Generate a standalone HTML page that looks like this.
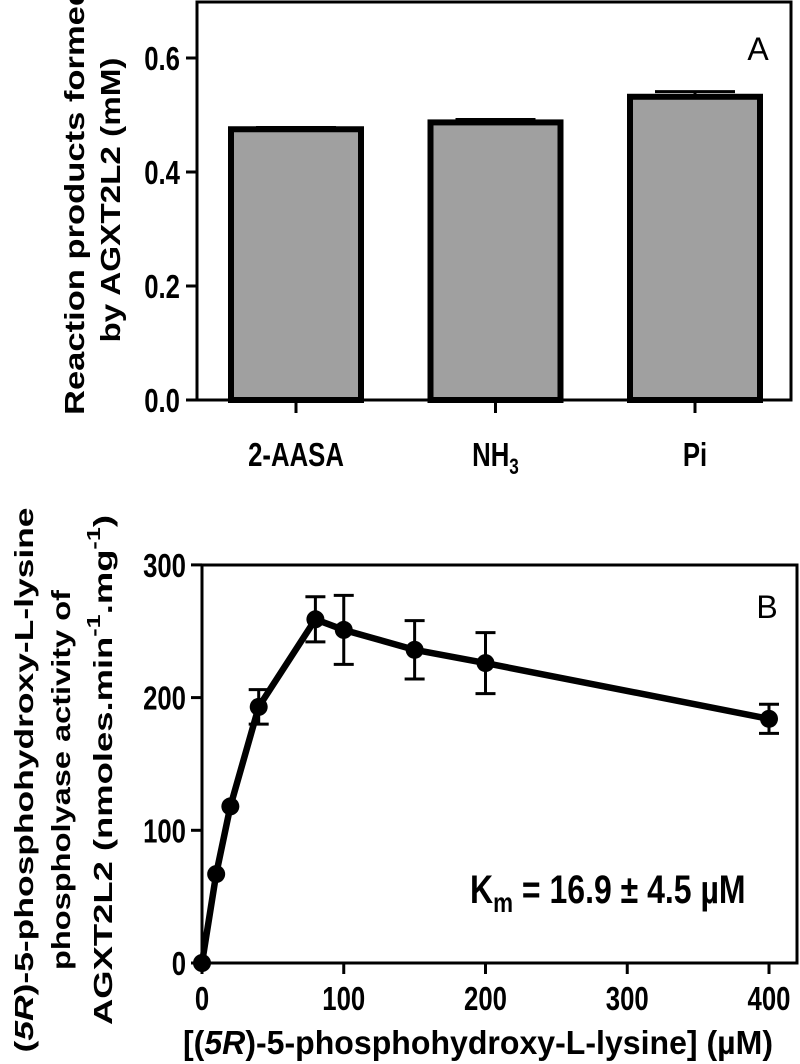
<!DOCTYPE html>
<html><head><meta charset="utf-8"><style>
body{margin:0;background:#fff}
svg{display:block}
.t{font-family:"Liberation Sans",sans-serif;font-weight:bold;font-size:33px}
.ti{font-family:"Liberation Sans",sans-serif;font-weight:bold;font-size:26px}
</style></head><body>
<svg id="chart" width="800" height="1064" xmlns="http://www.w3.org/2000/svg"></svg>
<script>
const catsA=["2-AASA","NH3","Pi"];
const valsA=[0.475,0.487,0.532];
const errA=[0.003,0.005,0.009];
const ticksA=[0.0,0.2,0.4,0.6];
const xB=[0,10,20,40,80,100,150,200,400];
const yB=[0,67,118,193,259,251,236,226,184];
const eB=[0,0,0,13,17,26,22,23,11];
const ticksBx=[0,100,200,300,400];
const ticksBy=[0,100,200,300];
const NS="http://www.w3.org/2000/svg";
const svg=document.getElementById('chart');
function mk(tag,attrs,parent){const e=document.createElementNS(NS,tag);for(const k in attrs)e.setAttribute(k,attrs[k]);(parent||svg).appendChild(e);return e;}
function ct(x,y,anchor,parent){return mk('text',{transform:`translate(${x},${y}) scale(0.78,1)`,x:0,y:0,'text-anchor':anchor,class:'t'},parent);}
// Panel A
const gA=mk('g',{});


const yA=v=>400-v/0.2*114;
const xA=i=>296+i*199.5;
let r=mk('rect',{x:197,y:2,width:594,height:398,fill:'none',stroke:'#000','stroke-width':3},gA);


ticksA.forEach(v=>{
  mk('line',{x1:186,x2:197,y1:yA(v),y2:yA(v),stroke:'#000','stroke-width':3},gA);
  const t=ct(180,yA(v)+12,'end',gA);
  t.textContent=v.toFixed(1);
  
  
});
catsA.forEach((c,i)=>{
  const cx=xA(i);
  const er=mk('path',{d:`M${cx-40} ${yA(valsA[i]+errA[i])}H${cx+40}M${cx} ${yA(valsA[i]+errA[i])}V${yA(valsA[i])}`,stroke:'#000','stroke-width':3,fill:'none'},gA);
  
  
  const b=mk('rect',{x:cx-65,y:yA(valsA[i]),width:130,height:400-yA(valsA[i]),fill:'#a0a0a0',stroke:'#000','stroke-width':6},gA);
  
  
  mk('line',{x1:cx,x2:cx,y1:400,y2:413,stroke:'#000','stroke-width':3},gA);
  const t=ct(cx,466,'middle',gA);
  if(c==="NH3"){t.innerHTML='NH<tspan dy="8" font-size="22">3</tspan>';}else t.textContent=c;
  
  
});
let lab=mk('text',{x:758,y:60,'text-anchor':'middle','font-family':'Liberation Sans,sans-serif','font-size':'32'},gA);
lab.textContent='A';


let yt=mk('text',{transform:'translate(84,200) rotate(-90)','text-anchor':'middle',class:'ti',style:'font-size:28px',textLength:'430',lengthAdjust:'spacingAndGlyphs'},gA);
yt.textContent='Reaction products formed';


yt=mk('text',{transform:'translate(120,200) rotate(-90)','text-anchor':'middle',class:'ti',style:'font-size:28px',textLength:'285',lengthAdjust:'spacingAndGlyphs'},gA);
yt.textContent='by AGXT2L2 (mM)';


// Panel B
const gB=mk('g',{});


const X=v=>202+v*1.4175, Y=v=>963-v*1.327;
r=mk('rect',{x:202,y:565,width:595,height:398,fill:'none',stroke:'#000','stroke-width':3},gB);


ticksBy.forEach(v=>{
  mk('line',{x1:191,x2:202,y1:Y(v),y2:Y(v),stroke:'#000','stroke-width':3},gB);
  const t=ct(186,Y(v)+12,'end',gB);
  t.textContent=v;
  
  
});
ticksBx.forEach(v=>{
  mk('line',{x1:X(v),x2:X(v),y1:963,y2:974,stroke:'#000','stroke-width':3},gB);
  const t=ct(X(v),1010,'middle',gB);
  t.textContent=v;
  
  
});
const ln=mk('polyline',{points:xB.map((x,i)=>X(x)+','+Y(yB[i])).join(' '),fill:'none',stroke:'#000','stroke-width':6.5,'stroke-linejoin':'round'},gB);


xB.forEach((x,i)=>{
  if(eB[i]>0){
    const e=mk('path',{d:`M${X(x)-10} ${Y(yB[i]+eB[i])}H${X(x)+10}M${X(x)} ${Y(yB[i]+eB[i])}V${Y(yB[i]-eB[i])}M${X(x)-10} ${Y(yB[i]-eB[i])}H${X(x)+10}`,stroke:'#000','stroke-width':3,fill:'none'},gB);
    
    
  }
  const c=mk('circle',{cx:X(x),cy:Y(yB[i]),r:9,fill:'#000'},gB);
  
  
});
lab=mk('text',{x:767,y:618,'text-anchor':'middle','font-family':'Liberation Sans,sans-serif','font-size':'32'},gB);
lab.textContent='B';


const km=mk('text',{transform:'translate(470,903) scale(0.8,1)',x:0,y:0,'text-anchor':'start',class:'t',style:'font-size:40px'},gB);
km.innerHTML='K<tspan dy="9" style="font-size:28px">m</tspan><tspan dy="-9"> = 16.9 ± 4.5 µM</tspan>';


const xt=mk('text',{x:478,y:1054,'text-anchor':'middle',class:'t',textLength:'590',lengthAdjust:'spacingAndGlyphs'},gB);
xt.innerHTML='[(<tspan font-style="italic">5R</tspan>)-5-phosphohydroxy-L-lysine] (µM)';


const l1=mk('text',{transform:'translate(33,780) rotate(-90)','text-anchor':'middle',class:'ti',textLength:'545',lengthAdjust:'spacingAndGlyphs'},gB);
l1.innerHTML='(<tspan font-style="italic">5R</tspan>)-5-phosphohydroxy-L-lysine';


const l2=mk('text',{transform:'translate(70,780) rotate(-90)','text-anchor':'middle',class:'ti',textLength:'380',lengthAdjust:'spacingAndGlyphs'},gB);
l2.textContent='phospholyase activity of';


const l3=mk('text',{transform:'translate(112,770) rotate(-90)','text-anchor':'middle',class:'ti',textLength:'510',lengthAdjust:'spacingAndGlyphs'},gB);
l3.innerHTML='AGXT2L2 (nmoles.min<tspan dy="-12" font-size="18">-1</tspan><tspan dy="12">.mg</tspan><tspan dy="-12" font-size="18">-1</tspan><tspan dy="12">)</tspan>';


</script>
</body></html>
